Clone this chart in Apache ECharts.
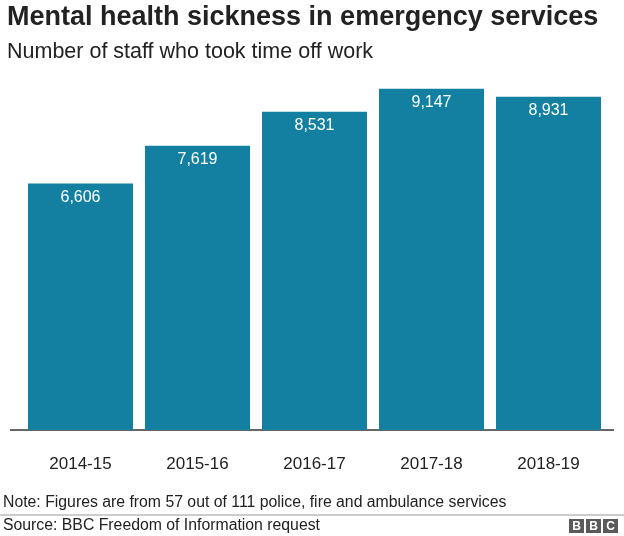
<!DOCTYPE html>
<html>
<head>
<meta charset="utf-8">
<script src="https://cdn.jsdelivr.net/npm/echarts@6/dist/echarts.min.js"></script>
<style>
    html, body { margin: 0; padding: 0; background: #fff; }
    #main { width: 624px; height: 536px; }
</style>
</head>
<body>
<div id="main"></div>
<script>
// 数据
var years = ['2014-15', '2015-16', '2016-17', '2017-18', '2018-19'];
var staffOff = [6606, 7619, 8531, 9147, 8931];

var FONT = '"Liberation Sans", Arial, Helvetica, sans-serif';
var TEAL = '#1380A1';

var chart = echarts.init(document.getElementById('main'));

var option = {
    animation: false,
    textStyle: {
        fontFamily: FONT
    },
    title: [
        {
            text: 'Mental health sickness in emergency services',
            left: 7,
            top: 4,
            padding: 0,
            textStyle: { fontSize: 27, fontWeight: 'bold', color: '#222', fontFamily: FONT }
        },
        {
            text: 'Number of staff who took time off work',
            left: 7,
            top: 41,
            padding: 0,
            textStyle: { fontSize: 21.5, fontWeight: 'normal', color: '#222', fontFamily: FONT }
        },
        {
            text: 'Note: Figures are from 57 out of 111 police, fire and ambulance services',
            left: 3,
            top: 495,
            padding: 0,
            textStyle: { fontSize: 15.8, fontWeight: 'normal', color: '#222', fontFamily: FONT }
        },
        {
            text: 'Source: BBC Freedom of Information request',
            left: 3,
            top: 518,
            padding: 0,
            textStyle: { fontSize: 15.8, fontWeight: 'normal', color: '#222', fontFamily: FONT }
        }
    ],
    grid: {
        left: 22,
        right: 17,
        top: 57,
        bottom: 106
    },
    xAxis: {
        type: 'category',
        data: years,
        axisLine: { show: false },
        axisTick: { show: false },
        axisLabel: {
            color: '#222',
            fontSize: 17,
            margin: 26,
            fontFamily: FONT
        }
    },
    yAxis: {
        type: 'value',
        min: 0,
        max: 10000,
        show: false,
        splitLine: { show: false }
    },
    series: [
        {
            type: 'bar',
            data: staffOff,
            barWidth: 105,
            itemStyle: { color: TEAL },
            label: {
                show: true,
                position: 'insideTop',
                distance: 6,
                color: '#fff',
                fontSize: 16,
                fontFamily: FONT,
                formatter: function (p) {
                    return p.value.toLocaleString('en-GB');
                }
            }
        }
    ],
    graphic: [
        // 基线
        {
            type: 'line',
            shape: { x1: 10, y1: 430, x2: 614, y2: 430 },
            style: { stroke: '#333', lineWidth: 1.5 }
        },
        // 分隔线
        {
            type: 'line',
            shape: { x1: 0, y1: 515, x2: 624, y2: 515 },
            style: { stroke: '#999', lineWidth: 1 }
        },
        // BBC 标志
        {
            type: 'group',
            left: 569,
            top: 519,
            children: ['B', 'B', 'C'].map(function (ch, i) {
                return {
                    type: 'group',
                    x: i * 17,
                    children: [
                        { type: 'rect', shape: { x: 0, y: 0, width: 15, height: 14 }, style: { fill: '#5a5a5a' } },
                        {
                            type: 'text',
                            x: 7.5, y: 7.5,
                            style: {
                                text: ch, fill: '#fff', fontSize: 12, fontWeight: 'bold',
                                fontFamily: FONT, align: 'center', verticalAlign: 'middle'
                            }
                        }
                    ]
                };
            })
        }
    ]
};

chart.setOption(option);
</script>
</body>
</html>
